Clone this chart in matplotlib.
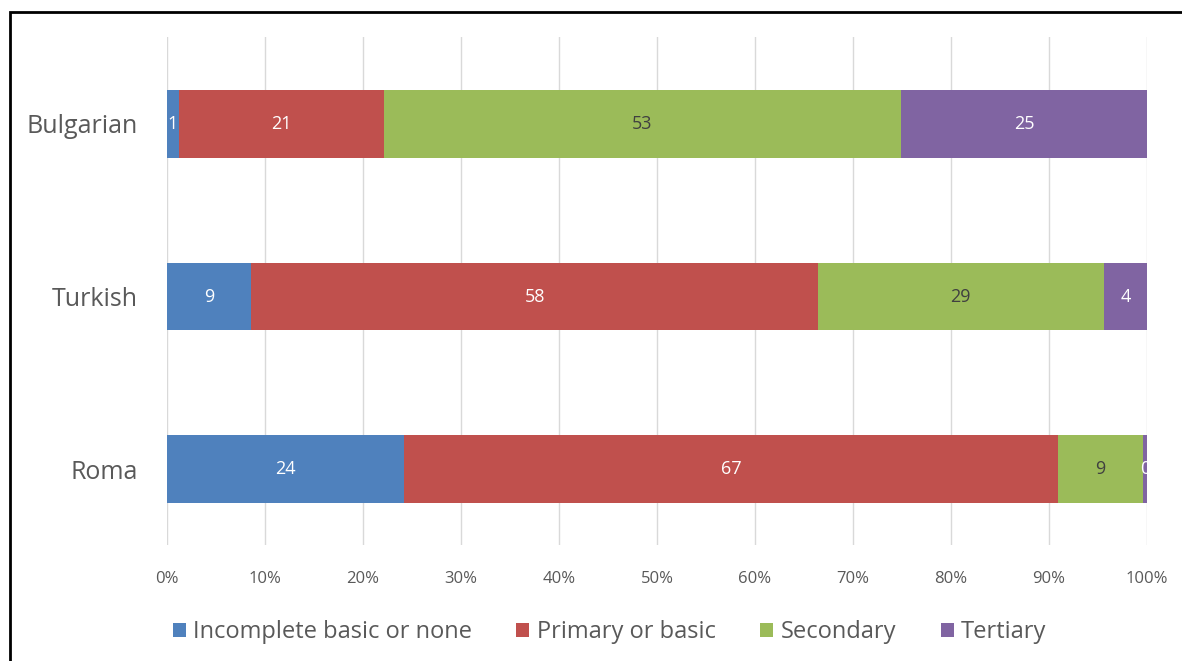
import numpy as np
import matplotlib
matplotlib.use('Agg')
import matplotlib.pyplot as plt
from matplotlib.patches import Rectangle

# 各族群受教育程度构成（百分比）
groups = ['Roma', 'Turkish', 'Bulgarian']
levels = ['Incomplete basic or none', 'Primary or basic', 'Secondary', 'Tertiary']
incomplete = [24.2, 8.6, 1.2]
primary = [66.7, 57.8, 20.9]
secondary = [8.7, 29.2, 52.8]
tertiary = [0.4, 4.4, 25.1]
x_ticks = [0, 10, 20, 30, 40, 50, 60, 70, 80, 90, 100]

colors = ['#4F81BD', '#C0504D', '#9BBB59', '#8064A2']
label_colors = ['white', 'white', '#404040', 'white']
grey = '#595959'

plt.rcParams['font.family'] = ['Open Sans', 'DejaVu Sans']

fig = plt.figure(figsize=(11.82, 6.61), dpi=100)
ax = fig.add_axes([0.1413, 0.1755, 0.8291, 0.7685])

series = [incomplete, primary, secondary, tertiary]
y = np.arange(len(groups))
left = np.zeros(len(groups))
for vals, name, c, lc in zip(series, levels, colors, label_colors):
    vals = np.array(vals)
    ax.barh(y, vals, left=left, height=0.39, color=c, label=name, zorder=2)
    for yi, v, l in zip(y, vals, left):
        ax.text(l + v / 2, yi, f'{v:.0f}', ha='center', va='center',
                color=lc, fontsize=13, zorder=3)
    left += vals

ax.set_xlim(0, 100)
ax.set_ylim(-0.44, 2.504)
ax.set_xticks(x_ticks)
ax.set_xticklabels([f'{t}%' for t in x_ticks], color=grey, fontsize=12)
ax.set_yticks(y)
ax.set_yticklabels(groups, color=grey, fontsize=18)
ax.tick_params(length=0)
ax.tick_params(axis='x', pad=19)
ax.tick_params(axis='y', pad=21)
ax.grid(axis='x', color='#D9D9D9', linewidth=1, zorder=0)
for s in ax.spines.values():
    s.set_visible(False)

leg = fig.legend(loc='center', bbox_to_anchor=(0.5155, 1 - 632 / 661), ncol=4,
                 frameon=False, fontsize=17, handlelength=0.55, handleheight=0.55,
                 handletextpad=0.3, columnspacing=1.9)
for t in leg.get_texts():
    t.set_color(grey)

# 外框（只露出上边和左边）
fig.add_artist(Rectangle((10 / 1182, -0.2), 1.5, 1.2 - 12 / 661,
                         transform=fig.transFigure, fill=False,
                         edgecolor='black', linewidth=2))

fig.savefig('out.png', dpi=100)
